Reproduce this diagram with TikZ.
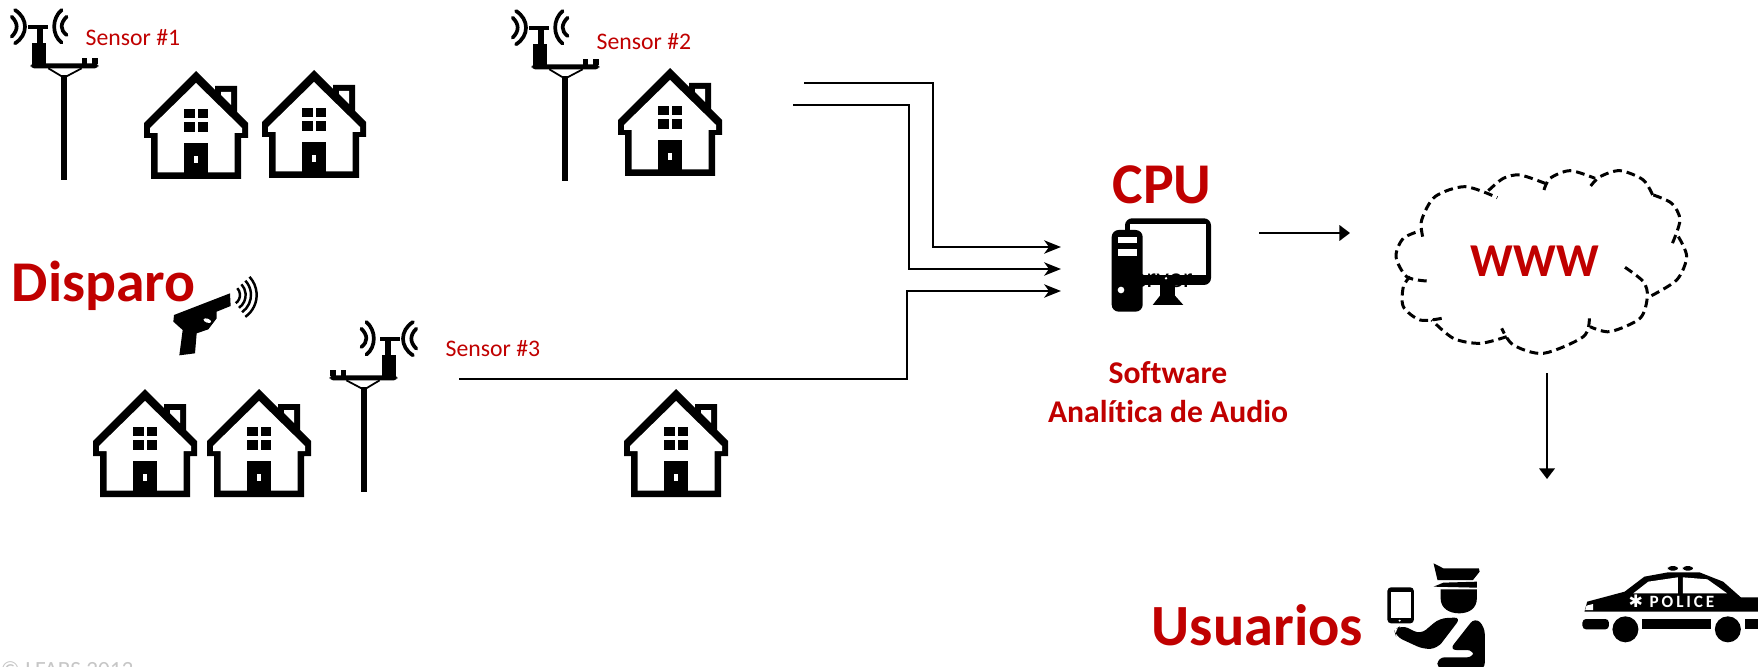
\documentclass[tikz,border=0pt]{standalone}
\usepackage{fontspec}
\setmainfont[Ligatures=NoCommon]{Carlito}
\newfontfamily\symfont{DejaVu Sans}
\usetikzlibrary{arrows.meta,
	positioning}
\definecolor{rojo}{RGB}{192,0,0}

\tikzset{
  house/.pic={
    \fill[black] (0,0) -- (-52,52) -- (-52,67) -- (-45,67) -- (-45,108) -- (45,108) -- (45,67) -- (52,67) -- (52,52) -- (41,41) -- (41,15) -- (19,15) -- (19,19) -- cycle;
    \fill[white] (25,21) -- (35,21) -- (35,34) -- (25,24) -- cycle;
    \fill[white] (0,12) -- (-46,57) -- (-46,62) -- (-38.5,62) -- (-38.5,101.5) -- (38.5,101.5) -- (38.5,62) -- (46,62) -- (46,57) -- cycle;
    \fill[black] (-12,72) rectangle (12,103);
    \fill[white] (-2,85) rectangle (2,92);
    \fill[black] (-12,38) rectangle (-1.5,47);
    \fill[black] (1.5,38) rectangle (12,47);
    \fill[black] (-12,51) rectangle (-1.5,61);
    \fill[black] (1.5,51) rectangle (12,61);
  },
  pole/.pic={
    \begin{scope}[scale=1/3]
    \fill[black] (-10,30) rectangle (10,345);
    \draw[line width=0.5pt] (-47,10) -- (0,38) -- (53,10);
    \fill[black,rounded corners=1pt] (-100,-5) rectangle (103,10);
    \fill[black] (53,-20) rectangle (70,-3);
    \fill[black] (83,-20) rectangle (103,-3);
    \fill[black] (-95,-65) rectangle (-55,-3);
    \fill[black] (-82,-112) rectangle (-64,-65);
    \fill[black] (-107,-120) rectangle (-47,-107);
    \draw[wave] (-147,-165) .. controls (-107,-140) and (-107,-90) .. (-147,-65);
    \draw[wave] (-157,-145) .. controls (-137,-125) and (-137,-105) .. (-157,-85);
    \draw[wave] (-7,-165) .. controls (-37,-140) and (-37,-90) .. (-7,-67);
    \draw[wave] (8,-145) .. controls (-12,-125) and (-12,-105) .. (8,-90);
    \end{scope}
  },
  wave/.style={line width=1.05pt,line cap=round},
  wire/.style={line width=0.55pt,-{Stealth[length=4.8pt,width=3.8pt,inset=1.4pt]}},
  flow/.style={line width=0.55pt,-{Triangle[length=3pt,width=4.4pt]}},
  sensor/.style={rojo,anchor=base west,inner sep=0pt,font=\fontsize{6.75}{8}\selectfont},
  titulo/.style={rojo,anchor=base west,inner sep=0pt,font=\fontsize{16.4}{19}\selectfont\bfseries},
  nube/.style={line width=0.85pt,dash pattern=on 2.5pt off 1.4pt}
}

\begin{document}
\begin{tikzpicture}[x=0.01cm,y=-0.01cm]
    \clip (0,0) rectangle (1758,667);
    % casas y postes
    \pic (h_1) at (196,71) {house};
    \pic (h_2) at (314,70) {house};
    \pic (h_3) at (670,68) {house};
    \pic (h_4) at (145,389) {house};
    \pic (h_5) at (259,389) {house};
    \pic (h_6) at (676,389) {house};
    \pic (p_1) at (64,65) {pole};
    \pic (p_2) at (565,66) {pole};
    \pic[xscale=-1] (p_3) at (364,377) {pole};
    % textos
    \node[sensor] (s_1) at (85,46) {Sensor \#1};
    \node[sensor] (s_2) at (596,50) {Sensor \#2};
    \node[sensor] (s_3) at (445,356) {Sensor \#3};
    \node[titulo] (disparo) at (11,301) {Disparo};
    \node[titulo] (cpu) at (1112,203) {CPU};
    \node[titulo,font=\fontsize{13.4}{16}\selectfont\bfseries] (www) at (1470,276) {WWW};
    \node[titulo,font=\fontsize{16.6}{20}\selectfont\bfseries] (usuarios) at (1151,645) {Usuarios};
    \node[rojo,inner sep=0pt,align=center,font=\fontsize{9}{11}\selectfont\bfseries] (software) at (1168,392) {Software\\Analítica de Audio};
    \node[anchor=base west,inner sep=0pt,text=gray!45,font=\fontsize{6.6}{8}\selectfont] (marca) at (0,677) {© LFABS 2013};
    % pistola
    \begin{scope}[shift={(0,250)},scale=1/3]
      \fill[black] (690,130) -- (692,168) -- (650,185) -- (650,205) -- (625,238) -- (590,250) -- (585,310) -- (538,316) -- (548,240) -- (520,215) -- (522,195) -- cycle;
      \fill[white,rotate around={-20:(622,212)}] (622,212) ellipse (12 and 6);
      \foreach \r in {30,47,63,80}
        \draw[line width=0.7pt] (690,135) ++(55:\r) arc[start angle=55,end angle=-43,radius=\r];
    \end{scope}
    % monitor
    \begin{scope}[shift={(1080,150)},scale=1/3]
      \fill[black,rounded corners=2pt] (135,205) rectangle (393,405);
      \fill[white] (150,222) rectangle (378,375);
      \node[anchor=base east,inner sep=0pt,font=\fontsize{8}{10}\selectfont] (server) at (340,413) {Server};
      \fill[white] (258,385) circle (4);
      \fill[black] (240,405) rectangle (285,437);
      \fill[black] (240,437) -- (285,437) -- (310,465) -- (218,465) -- cycle;
      \fill[black,rounded corners=2pt] (95,240) rectangle (188,485);
      \fill[white] (113,260) rectangle (170,280);
      \fill[white] (113,297) rectangle (170,318);
      \fill[white] (123,420) circle (10);
    \end{scope}
    % nube
    \begin{scope}[shift={(1370,150)},scale=1/3]
      \draw[nube] plot[smooth] coordinates {(158,260) (155,210) (195,140) (285,110) (382,143)};
      \draw[nube] plot[smooth] coordinates {(355,122) (400,85) (450,75) (525,100)};
      \draw[nube] plot[smooth] coordinates {(522,120) (540,85) (600,62) (675,85)};
      \draw[nube] plot[smooth] coordinates {(662,108) (690,80) (750,62) (820,90) (850,140)};
      \draw[nube] plot[smooth] coordinates {(850,135) (905,160) (930,210) (905,285)};
      \draw[nube] plot[smooth] coordinates {(925,260) (950,320) (920,390) (835,442)};
      \draw[nube] plot[smooth] coordinates {(765,352) (820,395) (832,440) (810,505) (720,545) (660,530)};
      \draw[nube] plot[smooth] coordinates {(658,505) (640,560) (520,610) (430,585) (395,535)};
      \draw[nube] plot[smooth] coordinates {(410,560) (330,580) (250,565) (185,510)};
      \draw[nube] plot[smooth] coordinates {(215,505) (150,510) (100,470) (100,410) (120,380)};
      \draw[nube] plot[smooth] coordinates {(170,393) (110,380) (78,320) (100,265) (158,240)};
    \end{scope}
    % policia y coche
    \begin{scope}[shift={(1140,540)},xscale=0.394,yscale=1/3]
      \fill[black] (745,70) -- (770,85) -- (860,85) -- (862,95) -- (845,120) -- (755,120) -- cycle;
      \fill[black] (745,140) -- (770,128) -- (855,125) -- (855,143) -- cycle;
      \fill[black] (763,148) -- (855,148) -- (855,175) .. controls (855,205) and (835,220) .. (810,220) .. controls (785,220) and (763,205) .. (763,175) -- cycle;
      \fill[black,rounded corners=1pt] (628,142) rectangle (695,250);
      \fill[white] (638,155) rectangle (687,235);
      \fill[white] (659,242) circle (3);
      \fill[black,rounded corners=2pt] (645,270) -- (665,255) -- (712,283) -- (760,235) -- (815,232) -- (755,325) -- (720,328) -- (650,290) -- cycle;
      \fill[black,rounded corners=2pt] (850,232) -- (875,260) -- (875,390) -- (755,390) -- (755,352) -- (848,352) -- (848,330) -- (785,330) -- cycle;
      \fill[black,rounded corners=1pt] (1340,78) rectangle (1365,92);
      \fill[black,rounded corners=1pt] (1378,78) rectangle (1403,92);
      \fill[black] (1128,215) -- (1135,185) -- (1230,155) -- (1280,110) -- (1340,97) -- (1420,97) -- (1480,125) -- (1525,172) -- (1860,172) -- (1860,215) -- cycle;
      \fill[white] (1252,160) -- (1290,125) -- (1365,112) -- (1365,160) -- cycle;
      \fill[white] (1378,112) -- (1440,118) -- (1490,160) -- (1378,160) -- cycle;
      \fill[white] (1130,210) -- (1133,197) -- (1150,192) -- (1150,210) -- cycle;
      \node[text=white,anchor=base west,inner sep=0pt,font=\fontsize{4.9}{6}\selectfont\bfseries] (police) at (1238,203) {{\symfont ✱}\, P\,O\,L\,I\,C\,E};
      \fill[black,rounded corners=1pt] (1123,237) rectangle (1190,268);
      \fill[black] (1275,237) rectangle (1450,268);
      \fill[black] (1535,237) rectangle (1860,268);
      \fill[black] (1232,268) ellipse (33 and 39);
      \fill[black] (1492,268) ellipse (33 and 39);
    \end{scope}
    % conectores
    \coordinate (e_1) at (804,83);
    \coordinate (e_2) at (793,105);
    \coordinate (e_3) at (459,379);
    \coordinate (b_1) at (933,165);
    \coordinate (b_2) at (909,187);
    \coordinate (b_3) at (907,335);
    \coordinate (t_1) at (1061,247);
    \coordinate (t_2) at (1061,269);
    \coordinate (t_3) at (1061,291);
    \coordinate (o_1) at (1259,233);
    \coordinate (d_1) at (1350,233);
    \coordinate (o_2) at (1547,373);
    \coordinate (d_2) at (1547,479);
    \draw[wire] (e_1) -| (b_1) |- (t_1);
    \draw[wire] (e_2) -| (b_2) |- (t_2);
    \draw[wire] (e_3) -| (b_3) |- (t_3);
    \draw[flow] (o_1) -- (d_1);
    \draw[flow] (o_2) -- (d_2);
  \end{tikzpicture}
\end{document}
